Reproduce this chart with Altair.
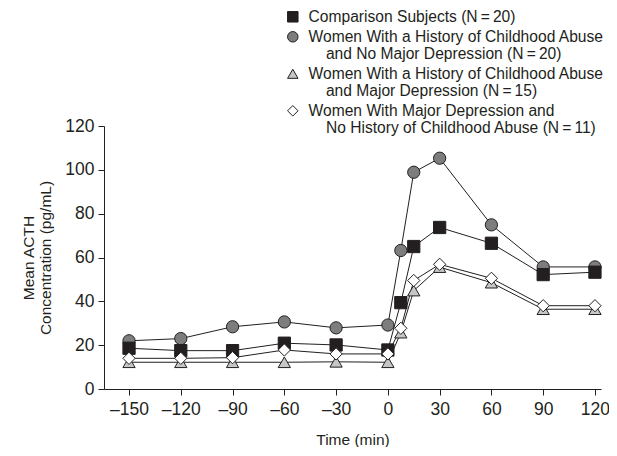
import altair as alt
import pandas as pd

# ---- data ----
times = [-150, -120, -90, -60, -30, 0, 7.5, 15, 30, 60, 90, 120]

IND = "\u200b\u00a0\u00a0\u00a0\u00a0"
groups = [
    "Comparison Subjects (N\u2009=\u200920)",
    "Women With a History of Childhood Abuse|" + IND + "and No Major Depression (N\u2009=\u200920)",
    "Women With a History of Childhood Abuse|" + IND + "and Major Depression (N\u2009=\u200915)",
    "Women With Major Depression and|" + IND + "No History of Childhood Abuse (N\u2009=\u200911)",
]

comparison = [18.6, 17.5, 17.5, 20.9, 20.1, 17.8, 39.4, 65.0, 73.7, 66.5, 52.2, 53.3]
abuse_no_md = [22.0, 23.0, 28.4, 30.6, 27.9, 29.2, 63.2, 98.9, 105.3, 74.9, 55.7, 55.7]
abuse_md = [12.2, 12.2, 12.2, 12.2, 12.4, 12.2, 25.7, 44.9, 55.6, 48.5, 36.4, 36.4]
md_no_abuse = [14.0, 14.0, 14.3, 17.8, 16.0, 16.0, 27.7, 49.5, 56.9, 50.5, 38.0, 38.0]

series = [comparison, abuse_no_md, abuse_md, md_no_abuse]
draw_order = [1, 0, 2, 3]  # circles under squares, diamonds on top

fills = ["#231f20", "#7d7d7d", "#c6c6c6", "#ffffff"]
shapes = ["square", "circle", "triangle-up", "diamond"]

x_ticks = [-150, -120, -90, -60, -30, 0, 30, 60, 90, 120]
y_ticks = [0, 20, 40, 60, 80, 100, 120]

rows = []
for gi in draw_order:
    for t, v in zip(times, series[gi]):
        rows.append({"group": groups[gi], "time": t, "acth": v})
df = pd.DataFrame(rows)

FONT = "Liberation Sans"
INK = "#231f20"

x_enc = alt.X(
    "time:Q",
    scale=alt.Scale(domain=[-164.5, 123.5], nice=False, zero=False),
    axis=alt.Axis(
        values=x_ticks,
        title="Time (min)",
        labelExpr="(datum.value < 0 ? '\u2013' : '') + abs(datum.value)",
        grid=False,
    ),
)
y_enc = alt.Y(
    "acth:Q",
    scale=alt.Scale(domain=[0, 120], nice=False),
    axis=alt.Axis(
        values=y_ticks,
        title=["Mean ACTH", "Concentration (pg/mL)"],
        grid=False,
    ),
)

legend = alt.Legend(
    title=None,
    orient="none",
    legendX=181,
    legendY=-117,
    labelExpr="split(datum.label, '|')",
    labelBaseline="middle",
    rowPadding=3,
    labelLimit=500,
    padding=0,
    symbolStrokeColor=INK,
    symbolStrokeWidth=1,
    symbolSize=110,
)

lines = alt.Chart(df).mark_line(color=INK, strokeWidth=1).encode(
    x=x_enc, y=y_enc, detail="group:N"
)

points = alt.Chart(df).mark_point(
    filled=True, strokeWidth=1, size=150, opacity=1
).encode(
    x=x_enc,
    y=y_enc,
    fill=alt.Fill("group:N", scale=alt.Scale(domain=groups, range=fills), legend=legend),
    shape=alt.Shape("group:N", scale=alt.Scale(domain=groups, range=shapes), legend=legend),
    stroke=alt.Stroke("group:N", scale=alt.Scale(domain=groups, range=[INK] * 4), legend=legend),
)

chart = (
    alt.layer(lines, points)
    .properties(
        width=497,
        height=263,
        autosize=alt.AutoSizeParams(type="none"),
        padding={"left": 96, "top": 118, "right": 8, "bottom": 58},
    )
    .configure_view(stroke=None)
    .configure_axis(
        domainColor=INK,
        tickColor=INK,
        labelColor=INK,
        titleColor=INK,
        labelFont=FONT,
        titleFont=FONT,
        labelFontSize=17.5,
        titleFontSize=15.5,
        titleFontWeight="normal",
        tickSize=6,
        domainWidth=1,
        tickWidth=1,
    )
    .configure_axisX(labelPadding=5, titlePadding=15)
    .configure_axisY(labelPadding=4, titlePadding=11, titleLineHeight=17)
    .configure_legend(
        labelFont=FONT,
        labelFontSize=15.6,
        labelColor=INK,
        labelOffset=8,
    )
)

chart.save("out.html", embed_options={"renderer": "svg", "actions": False})
